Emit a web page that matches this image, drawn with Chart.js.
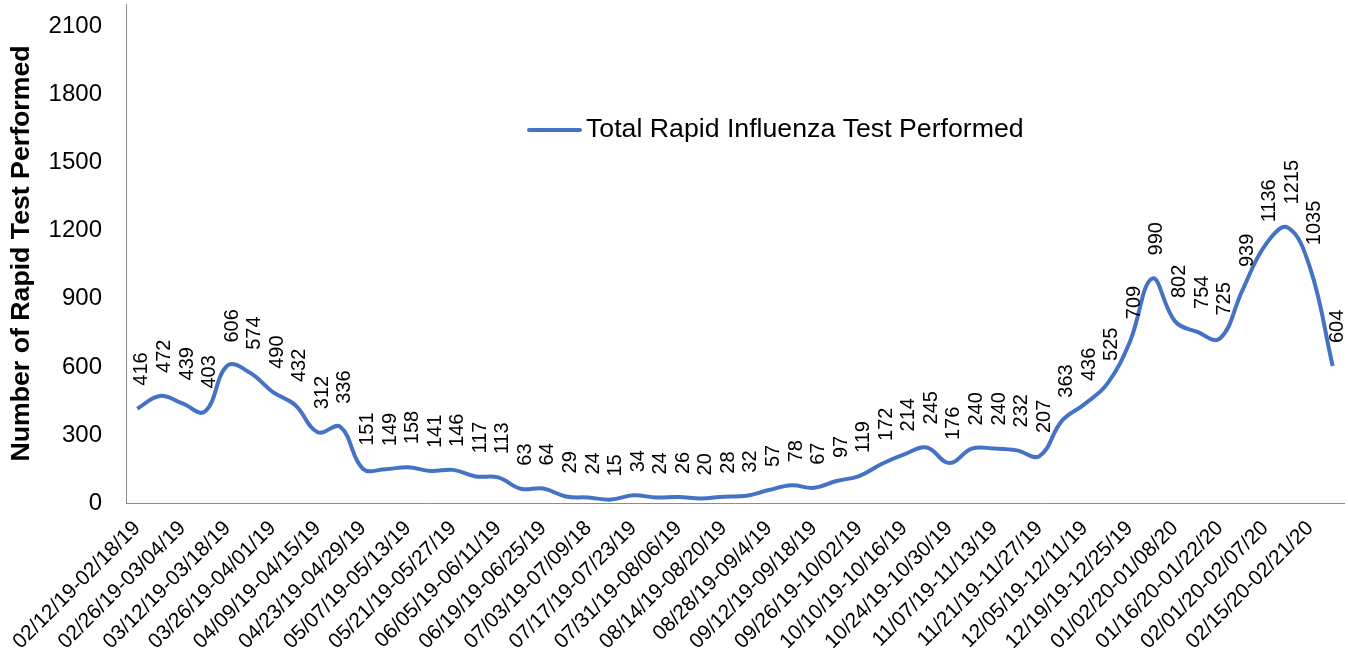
<!DOCTYPE html>
<html>
<head>
<meta charset="utf-8">
<script src="https://cdn.jsdelivr.net/npm/chart.js@4/dist/chart.umd.min.js"></script>
<style>
  html, body { margin: 0; padding: 0; background: #ffffff; }
  #wrap { width: 1348px; height: 666px; position: relative; }
</style>
</head>
<body>
<div id="wrap"><canvas id="c" width="1348" height="666"></canvas></div>
<script>
// ---- data ----
const seriesName = "Total Rapid Influenza Test Performed";
const yAxisTitle = "Number of Rapid Test Performed";
// labels shown under every second week
const weekLabels = [
  "02/12/19-02/18/19", "02/26/19-03/04/19", "03/12/19-03/18/19", "03/26/19-04/01/19",
  "04/09/19-04/15/19", "04/23/19-04/29/19", "05/07/19-05/13/19", "05/21/19-05/27/19",
  "06/05/19-06/11/19", "06/19/19-06/25/19", "07/03/19-07/09/18", "07/17/19-07/23/19",
  "07/31/19-08/06/19", "08/14/19-08/20/19", "08/28/19-09/4/19", "09/12/19-09/18/19",
  "09/26/19-10/02/19", "10/10/19-10/16/19", "10/24/19-10/30/19", "11/07/19-11/13/19",
  "11/21/19-11/27/19", "12/05/19-12/11/19", "12/19/19-12/25/19", "01/02/20-01/08/20",
  "01/16/20-01/22/20", "02/01/20-02/07/20", "02/15/20-02/21/20"
];
const testsPerformed = [
  416, 472, 439, 403, 606, 574, 490, 432, 312, 336,
  151, 149, 158, 141, 146, 117, 113, 63, 64, 29,
  24, 15, 34, 24, 26, 20, 28, 32, 57, 78,
  67, 97, 119, 172, 214, 245, 176, 240, 240, 232,
  207, 363, 436, 525, 709, 990, 802, 754, 725, 939,
  1136, 1215, 1035, 604
];
const yTicks = [0, 300, 600, 900, 1200, 1500, 1800, 2100];

// categories: one per week, label only on every second week
const categories = testsPerformed.map((v, i) => (i % 2 === 0 ? (weekLabels[i / 2] || "") : ""));

const FONT = "'Liberation Sans', Arial, sans-serif";
const LINE_COLOR = "#4472C4";
const LABEL_SIZE = 20;

const dataLabelPlugin = {
  id: "dataLabels",
  afterDatasetsDraw(chart) {
    const ctx = chart.ctx;
    const meta = chart.getDatasetMeta(0);
    const ds = chart.data.datasets[0];
    ctx.save();
    ctx.fillStyle = "#000";
    ctx.font = LABEL_SIZE + "px " + FONT;
    ctx.textAlign = "left";
    ctx.textBaseline = "alphabetic";
    meta.data.forEach((pt, i) => {
      ctx.save();
      ctx.translate(pt.x + 3 + 0.358 * LABEL_SIZE, pt.y - 23);
      ctx.rotate(-Math.PI / 2);
      ctx.fillText(String(ds.data[i]), 0, 0);
      ctx.restore();
    });
    ctx.restore();
  }
};

const legendPlugin = {
  id: "insideLegend",
  afterDraw(chart) {
    const ctx = chart.ctx;
    const ds = chart.data.datasets[0];
    const y = 130;
    ctx.save();
    ctx.strokeStyle = ds.borderColor;
    ctx.lineWidth = 4;
    ctx.lineCap = "round";
    ctx.beginPath();
    ctx.moveTo(529, y);
    ctx.lineTo(580, y);
    ctx.stroke();
    ctx.fillStyle = "#000";
    ctx.font = "26.7px " + FONT;
    ctx.textAlign = "left";
    ctx.textBaseline = "middle";
    ctx.fillText(ds.label, 586, y);
    ctx.restore();
  }
};

new Chart(document.getElementById("c"), {
  type: "line",
  data: {
    labels: categories,
    datasets: [{
      label: seriesName,
      data: testsPerformed,
      borderColor: LINE_COLOR,
      backgroundColor: LINE_COLOR,
      borderWidth: 4,
      pointRadius: 0,
      tension: 0.4,
      fill: false
    }]
  },
  options: {
    responsive: false,
    animation: false,
    devicePixelRatio: 1,
    layout: { padding: { top: 4, right: 4, left: 0, bottom: 0 } },
    plugins: {
      legend: { display: false },
      tooltip: { enabled: false }
    },
    scales: {
      x: {
        offset: true,
        grid: { display: false, drawTicks: false },
        border: { display: true, color: "#8c8c8c", width: 1 },
        ticks: {
          autoSkip: false,
          maxRotation: 45,
          minRotation: 45,
          padding: 13,
          color: "#000",
          font: { family: FONT, size: 21 }
        },
        afterFit(scale) {
          scale.height = 163;
          scale.paddingLeft = 0;
          scale.paddingRight = 0;
          scale.paddingTop = 0;
          scale.paddingBottom = 0;
        }
      },
      y: {
        min: 0,
        max: 2200,
        grid: { display: false, drawTicks: false },
        border: { display: true, color: "#8c8c8c", width: 1 },
        afterBuildTicks(scale) {
          scale.ticks = yTicks.map(v => ({ value: v }));
        },
        ticks: {
          padding: 24,
          color: "#000",
          font: { family: FONT, size: 24 },
          callback: (v) => String(v)
        },
        title: {
          display: true,
          text: yAxisTitle,
          color: "#000",
          font: { family: FONT, size: 26.7, weight: "bold" },
          padding: { top: 6, bottom: 0 }
        },
        afterFit(scale) {
          scale.width = 126;
          scale.paddingTop = 0;
          scale.paddingBottom = 0;
          scale.paddingLeft = 0;
          scale.paddingRight = 0;
        }
      }
    }
  },
  plugins: [dataLabelPlugin, legendPlugin]
});
</script>
</body>
</html>
